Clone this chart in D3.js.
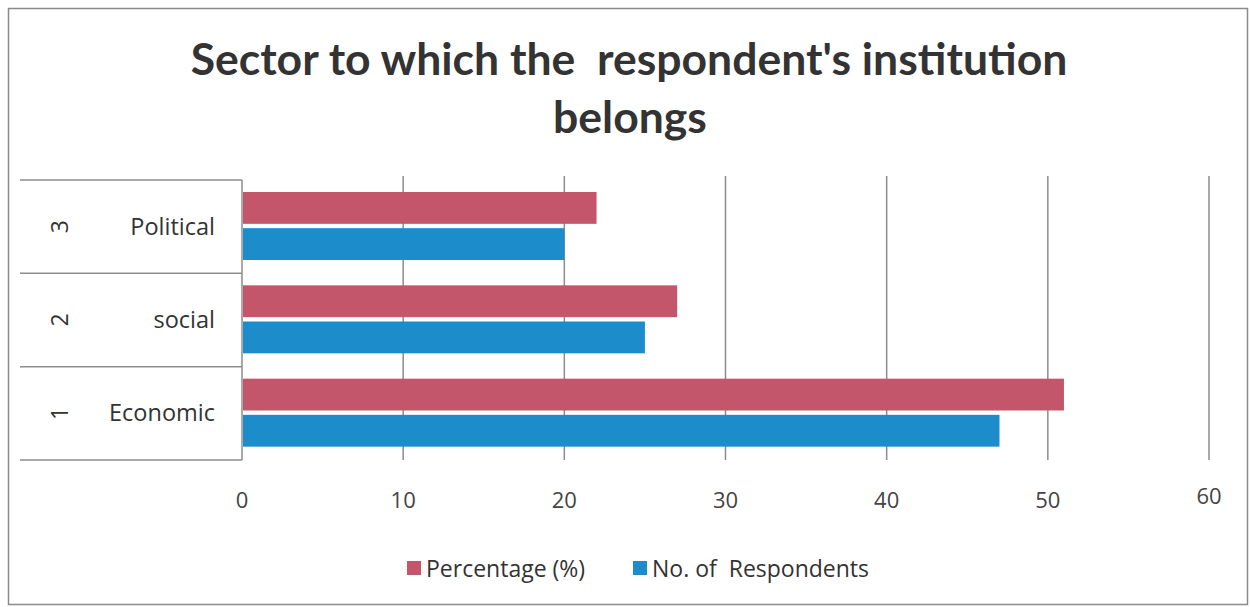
<!DOCTYPE html>
<html><head><meta charset="utf-8">
<script src="https://cdn.jsdelivr.net/npm/d3@7"></script>
<style>body{margin:0;background:#fff;} svg{display:block;}</style>
</head><body>
<svg id="c" width="1250" height="607"></svg>
<script>
const categories = ["Economic", "social", "Political"];
const categoryNumbers = ["1", "2", "3"];
const seriesNames = ["Percentage (%)", "No. of  Respondents"];
const percentage = [51, 27, 22];
const respondents = [47, 25, 20];
const xTicks = [0, 10, 20, 30, 40, 50, 60];
const colors = ["#c3566a", "#1d8cca"];

const svg = d3.select("#c");
const font = "Lato, 'Open Sans', sans-serif";

svg.append("rect").attr("x", 8.5).attr("y", 8.5).attr("width", 1239).attr("height", 596)
  .attr("fill", "none").attr("stroke", "#8a8a8a").attr("stroke-width", 1.5);

// title
const title = svg.append("text").attr("text-anchor", "middle").attr("font-family", font)
  .attr("font-weight", "bold").attr("font-size", 44.5).attr("fill", "#333").attr("xml:space","preserve");
title.append("tspan").attr("x", 629).attr("y", 75).text("Sector to which the  respondent's institution");
title.append("tspan").attr("x", 630).attr("y", 133).text("belongs");

const pLeft = 242, pRight = 1209, pTop = 180, pBottom = 460;
const x = d3.scaleLinear().domain([0, 60]).range([pLeft, pRight]);
const y = d3.scaleBand().domain(categories.slice().reverse()).range([pTop, pBottom]);
const inner = d3.scaleBand().domain(seriesNames).range([12, 80]).paddingInner(0.12);

// gridlines
svg.append("g").selectAll("line").data(xTicks.slice(1)).join("line")
  .attr("x1", d => x(d)).attr("x2", d => x(d)).attr("y1", pTop - 4).attr("y2", pBottom)
  .attr("stroke", "#8c8c8c").attr("stroke-width", 1.5);
// category table lines
svg.append("g").selectAll("line").data(d3.range(4)).join("line")
  .attr("x1", 20).attr("x2", pLeft).attr("y1", i => pTop + i * y.step()).attr("y2", i => pTop + i * y.step())
  .attr("stroke", "#8c8c8c").attr("stroke-width", 1.5);
svg.append("line").attr("x1", pLeft).attr("x2", pLeft).attr("y1", pTop).attr("y2", pBottom)
  .attr("stroke", "#8c8c8c").attr("stroke-width", 1.5);

// bars
const rows = categories.map((c, i) => ({ c, vals: [percentage[i], respondents[i]] }));
const g = svg.append("g");
rows.forEach(r => {
  r.vals.forEach((v, j) => {
    g.append("rect").attr("x", x(0) + 1).attr("y", y(r.c) + inner(seriesNames[j]))
      .attr("width", x(v) - x(0) - 1).attr("height", inner.bandwidth()).attr("fill", colors[j]);
  });
});

// category labels
categories.forEach((c, i) => {
  const cy = y(c) + y.bandwidth() / 2;
  svg.append("text").attr("x", 215).attr("y", cy + 8).attr("text-anchor", "end")
    .attr("font-family", "'Open Sans', sans-serif").attr("font-size", 23.5).attr("fill", "#333").text(c);
  svg.append("text").attr("transform", `translate(68,${cy}) rotate(-90)`).attr("text-anchor", "middle")
    .attr("font-family", "'Open Sans', sans-serif").attr("font-size", 23).attr("fill", "#333").text(categoryNumbers[i]);
});

// x tick labels
svg.append("g").selectAll("text").data(xTicks).join("text")
  .attr("x", d => x(d)).attr("y", d => d === 60 ? 504 : 508).attr("text-anchor", "middle")
  .attr("font-family", "'Open Sans', sans-serif").attr("font-size", 22).attr("fill", "#444").text(d => d);

// legend
const legendX = [407, 633];
seriesNames.forEach((s, j) => {
  svg.append("rect").attr("x", legendX[j]).attr("y", 561).attr("width", 14).attr("height", 14).attr("fill", colors[j]);
  svg.append("text").attr("x", legendX[j] + 19).attr("y", 577).attr("xml:space", "preserve")
    .attr("font-family", "'Open Sans', sans-serif").attr("font-size", 23).attr("fill", "#333").text(s);
});
</script>
</body></html>
